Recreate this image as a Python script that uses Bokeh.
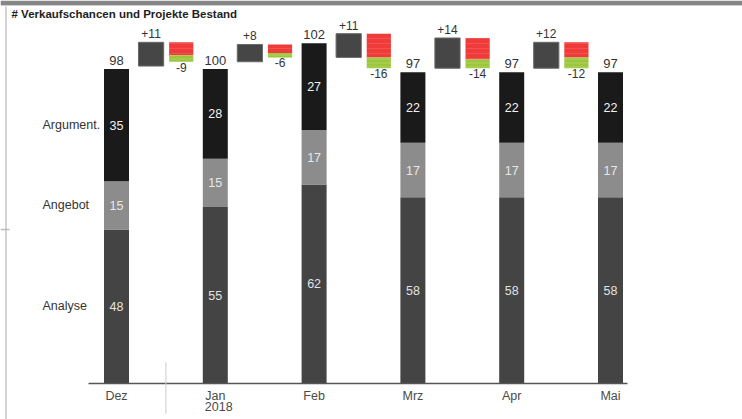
from bokeh.plotting import figure
from bokeh.models import ColumnDataSource, Range1d
from bokeh.core.properties import value
from bokeh.embed import file_html
from bokeh.resources import INLINE

# --- data -------------------------------------------------------------
months = ["Dez", "Jan", "Feb", "Mrz", "Apr", "Mai"]
year_labels = ["", "2018", "", "", "", ""]
stages = ["Analyse", "Angebot", "Argument."]
analyse = [48, 55, 62, 58, 58, 58]
angebot = [15, 15, 17, 17, 17, 17]
argument = [35, 28, 27, 22, 22, 22]
totals = [98, 100, 102, 97, 97, 97]
# movements between two months
added = [11, 8, 11, 14, 12]
removed_lost = [6, 4, 11, 10, 7]
removed_won = [3, 2, 5, 4, 5]

TITLE = "# Verkaufschancen und Projekte Bestand"
FONT = value("Liberation Sans")

# --- layout helpers (pixel -> data) -----------------------------------
W, H = 742, 419
X0_PX, STEP_PX = 116.0, 98.8      # first column centre, column spacing
BASE_PX, K = 383.0, 3.21          # baseline, px per unit (stacks)
D100_PX, DK = 61.25, 2.16         # movement boxes: px of 100, px per unit


def sx(px):
    return (px - X0_PX) / STEP_PX


def sy(px):
    return (BASE_PX - px) / K


def dv(px):
    return 100 + (D100_PX - px) / DK


p = figure(width=W, height=H, output_backend="svg", toolbar_location=None,
           x_range=Range1d(sx(0), sx(W)), y_range=Range1d(sy(H), sy(0)),
           x_axis_type=None, y_axis_type=None, min_border=0,
           outline_line_color=None, background_fill_color="white",
           border_fill_color="white")
p.extra_y_ranges = {"delta": Range1d(dv(H), dv(0))}
p.title.visible = False

n = len(months)
idx = list(range(n))
BAR_W = 0.253

# --- frame decorations ------------------------------------------------
p.quad(left=[sx(0)], right=[sx(W)], top=[sy(0)], bottom=[sy(4.5)],
       fill_color="#868686", line_color=None)
p.segment(x0=[sx(0)], x1=[sx(W)], y0=[sy(5)], y1=[sy(5)],
          line_color="#cfcfcf", line_width=1)
p.segment(x0=[sx(5.5)], x1=[sx(5.5)], y0=[sy(6)], y1=[sy(H)],
          line_color="#d4d4d4", line_width=2)
p.segment(x0=[sx(0)], x1=[sx(9)], y0=[sy(229)], y1=[sy(229)],
          line_color="#bdbdbd", line_width=1.5)

p.text(x=[sx(11)], y=[sy(13.5)], text=[TITLE], text_font=FONT,
       text_font_size="11.5px", text_font_style="bold", text_color="#1e1e1e",
       text_baseline="middle", text_align="left")

# --- stacked month columns -------------------------------------------
bot2 = analyse
top2 = [a + b for a, b in zip(analyse, angebot)]
top3 = [t + c for t, c in zip(top2, argument)]
src = ColumnDataSource(dict(
    x=idx, a=analyse, b=angebot, c=argument, top2=top2, top3=top3,
    mid1=[v / 2 for v in analyse],
    mid2=[(l + h) / 2 for l, h in zip(bot2, top2)],
    mid3=[(l + h) / 2 for l, h in zip(top2, top3)],
    la=[str(v) for v in analyse], lb=[str(v) for v in angebot],
    lc=[str(v) for v in argument], lt=[str(v) for v in totals],
    month=months, year=year_labels,
))

p.vbar(x="x", width=BAR_W, bottom=0, top="a", source=src,
       fill_color="#444444", line_color=None)
p.vbar(x="x", width=BAR_W, bottom="a", top="top2", source=src,
       fill_color="#8c8c8c", line_color=None)
p.vbar(x="x", width=BAR_W, bottom="top2", top="top3", source=src,
       fill_color="#1a1a1a", line_color=None)

seg_kw = dict(text_font=FONT, text_font_size="12.5px", text_align="center",
              text_baseline="middle", source=src)
p.text(x="x", y="mid1", text="la", text_color="#e2e2e2", **seg_kw)
p.text(x="x", y="mid2", text="lb", text_color="#e8e8e8", **seg_kw)
p.text(x="x", y="mid3", text="lc", text_color="#f2f2f2", **seg_kw)

p.text(x="x", y="top3", text="lt", text_font=FONT, text_font_size="13px",
       text_color="#333333", text_align="center", text_baseline="bottom",
       y_offset=-4, source=src)

# stage names beside the first column
p.text(x=[sx(42)] * 3, y=[analyse[0] / 2, (bot2[0] + top2[0]) / 2,
                          (top2[0] + top3[0]) / 2],
       text=stages, text_font=FONT, text_font_size="12.5px",
       text_color="#333333", text_align="left", text_baseline="middle")

# --- baseline, separator and month labels ----------------------------
p.segment(x0=[sx(88)], x1=[sx(627)], y0=[0], y1=[0],
          line_color="#555555", line_width=1.5)
p.segment(x0=[0.5], x1=[0.5], y0=[sy(362)], y1=[sy(413)],
          line_color="#cccccc", line_width=1)
p.text(x="x", y=0, text="month", text_font=FONT, text_font_size="12.5px",
       text_color="#4a4a4a", text_align="center", text_baseline="top",
       y_offset=5, source=src)
p.text(x=[i - 10.5 / STEP_PX for i in idx], y=[0] * n, text=year_labels,
       text_font=FONT, text_font_size="12.5px", text_color="#4a4a4a",
       text_align="left", text_baseline="top", y_offset=18.5)

# --- movement boxes between months -----------------------------------
m = len(added)
g_x = [i + 0.35 for i in range(m)]
r_x = [i + 0.655 for i in range(m)]
g_bot = totals[:m]
g_top = [t + a for t, a in zip(totals[:m], added)]
r_bot = [t - l for t, l in zip(g_top, removed_lost)]
w_bot = [r - w for r, w in zip(r_bot, removed_won)]

mv = ColumnDataSource(dict(
    gx=g_x, rx=r_x, gb=g_bot, gt=g_top, rb=r_bot, wb=w_bot,
    plus=["+%d" % a for a in added],
    minus=["-%d" % (l + w) for l, w in zip(removed_lost, removed_won)],
))

p.vbar(x="gx", width=0.255, bottom="gb", top="gt", source=mv,
       y_range_name="delta", fill_color="#464646", line_color="#6a6a6a",
       line_width=1)
p.vbar(x="rx", width=0.245, bottom="rb", top="gt", source=mv,
       y_range_name="delta", fill_color="#f03b3b", line_color=None,
       hatch_pattern="horizontal_line", hatch_color="#ff8a8a",
       hatch_alpha=0.35, hatch_scale=5, hatch_weight=0.8)
p.vbar(x="rx", width=0.245, bottom="wb", top="rb", source=mv,
       y_range_name="delta", fill_color="#9cc63c", line_color=None,
       hatch_pattern="horizontal_line", hatch_color="#d6ea9c",
       hatch_alpha=0.45, hatch_scale=4, hatch_weight=0.8)

p.text(x="gx", y="gt", text="plus", source=mv, y_range_name="delta",
       text_font=FONT, text_font_size="12px", text_color="#333333",
       text_align="center", text_baseline="bottom", y_offset=-4)
p.text(x="rx", y="wb", text="minus", source=mv, y_range_name="delta",
       text_font=FONT, text_font_size="12px", text_color="#333333",
       text_align="center", text_baseline="top", y_offset=1)

open("out.html", "w").write(file_html(p, INLINE))
